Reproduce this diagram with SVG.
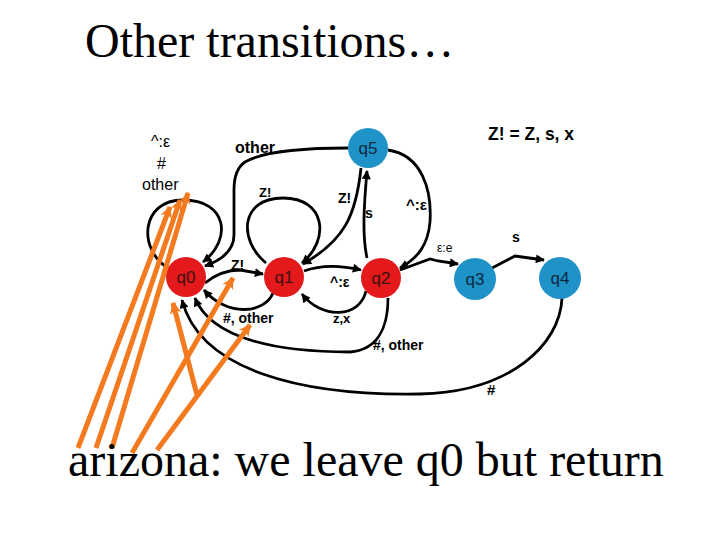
<svg xmlns="http://www.w3.org/2000/svg" width="720" height="540" viewBox="0 0 720 540">
<defs>
<marker id="ah" viewBox="0 0 10 10" refX="9" refY="5" markerWidth="12" markerHeight="9" orient="auto" markerUnits="userSpaceOnUse"><path d="M0,0 L10,5 L0,10 z" fill="#000"/></marker>
<marker id="oh" viewBox="0 0 10 10" refX="9" refY="5" markerWidth="16" markerHeight="12" orient="auto" markerUnits="userSpaceOnUse"><path d="M0,0 L10,5 L0,10 L3,5 z" fill="#F47A1F"/></marker>
<style>
.title{font-family:"Liberation Serif","Times New Roman",serif;font-size:48px;fill:#000}
.edge{fill:none;stroke:#000;stroke-width:2.8;marker-end:url(#ah)}
.orange{fill:none;stroke:#F47A1F;stroke-width:5;marker-end:url(#oh)}
.red{fill:#E4191C}
.blue{fill:#1F92C8}
.nl{font-family:"Liberation Sans",Arial,sans-serif;font-size:17px;text-anchor:middle;fill:#3a1010}
.nlb{font-family:"Liberation Sans",Arial,sans-serif;font-size:17px;text-anchor:middle;fill:#0d2a40}
.lb{font-family:"Liberation Sans",Arial,sans-serif;font-weight:bold;font-size:14px;fill:#000}
.lr{font-family:"Liberation Sans",Arial,sans-serif;font-size:16px;fill:#000}
</style>
</defs>
<rect width="720" height="540" fill="#fff"/>
<text class="title" x="85" y="57">Other transitions…</text>

<g id="connectors">
<path class="edge" d="M 168 268 C 138 250, 140 200, 183 200 C 228 200, 232 240, 203 262"/>
<path class="edge" d="M 348 148 C 300 148, 262 152, 245 162 C 236 168, 234 178, 234 190 L 234 235 C 234 250, 222 260, 205 266"/>
<path class="edge" d="M 266 263 C 238 240, 240 198, 283 198 C 326 198, 330 240, 302 263"/>
<path class="edge" d="M 361 168 C 356 215, 345 240, 303 264"/>
<path class="edge" d="M 367 258 C 362 235, 364 205, 367 171"/>
<path class="edge" d="M 388 150 C 422 155, 432 190, 430 222 C 428 245, 418 258, 400 268"/>
<path class="edge" d="M 205 283 C 215 275, 225 270, 240 270 L 263 274"/>
<path class="edge" d="M 304 271 C 320 265, 340 265, 361 270"/>
<path class="edge" d="M 366 291 C 360 318, 322 320, 302 294"/>
<path class="edge" d="M 273 293 C 265 313, 228 318, 204 290"/>
<path class="edge" d="M 388 298 C 388 330, 376 350, 350 352 C 280 352, 212 340, 195 298"/>
<path class="edge" d="M 562 298 C 560 345, 510 392, 420 394 C 300 396, 200 370, 182 300"/>
<path class="edge" d="M 400 270 L 430 259 L 438 261 L 458 264"/>
<path class="edge" d="M 492 268 L 515 256 L 522 257 L 544 260"/>
</g>

<g id="labels">
<text class="lr" x="151" y="147">^:ε</text>
<text class="lr" x="157" y="169">#</text>
<text class="lr" x="142" y="190">other</text>
<text class="lb" x="235" y="153" style="font-size:16px">other</text>
<text class="lb" x="259" y="197" style="font-size:13px">Z!</text>
<text class="lb" x="338" y="203">Z!</text>
<text class="lb" x="365" y="218">s</text>
<text class="lb" x="406" y="210" style="font-size:15px">^:ε</text>
<text class="lb" x="231" y="270">Z!</text>
<text class="lb" x="330" y="287">^:ε</text>
<text class="lr" x="437" y="252" style="font-size:12px">ε:e</text>
<text class="lb" x="512" y="242">s</text>
<text class="lb" x="488" y="140" style="font-size:17.5px">Z! = Z, s, x</text>
<text class="lb" x="223" y="323">#, other</text>
<text class="lb" x="333" y="323" style="font-size:13px">z,x</text>
<text class="lb" x="373" y="350">#, other</text>
<text class="lb" x="487" y="395" style="font-size:15px">#</text>
</g>

<g id="q0"><circle class="red" cx="186" cy="277" r="20"/><text class="nl" x="186" y="283">q0</text></g>
<g id="q1"><circle class="red" cx="284" cy="277" r="20"/><text class="nl" x="284" y="283">q1</text></g>
<g id="q2"><circle class="red" cx="381" cy="278" r="20"/><text class="nl" x="381" y="284">q2</text></g>
<g id="q3"><circle class="blue" cx="475" cy="279" r="21"/><text class="nlb" x="475" y="285">q3</text></g>
<g id="q4"><circle class="blue" cx="560" cy="278" r="21"/><text class="nlb" x="560" y="284">q4</text></g>
<g id="q5"><circle class="blue" cx="368" cy="148" r="20"/><text class="nlb" x="368" y="154">q5</text></g>

<g id="pointers">
<path class="orange" d="M 78 448 L 170 207"/>
<path class="orange" d="M 96 448 L 180 200"/>
<path class="orange" d="M 112 448 L 188 193"/>
<path class="orange" d="M 132 453 L 233 278"/>
<path class="orange" d="M 157 450 L 250 325"/>
<path class="orange" d="M 197 395 L 173 303"/>
</g>

<text class="title" x="68" y="476">arizona: we leave q0 but return</text>
</svg>
